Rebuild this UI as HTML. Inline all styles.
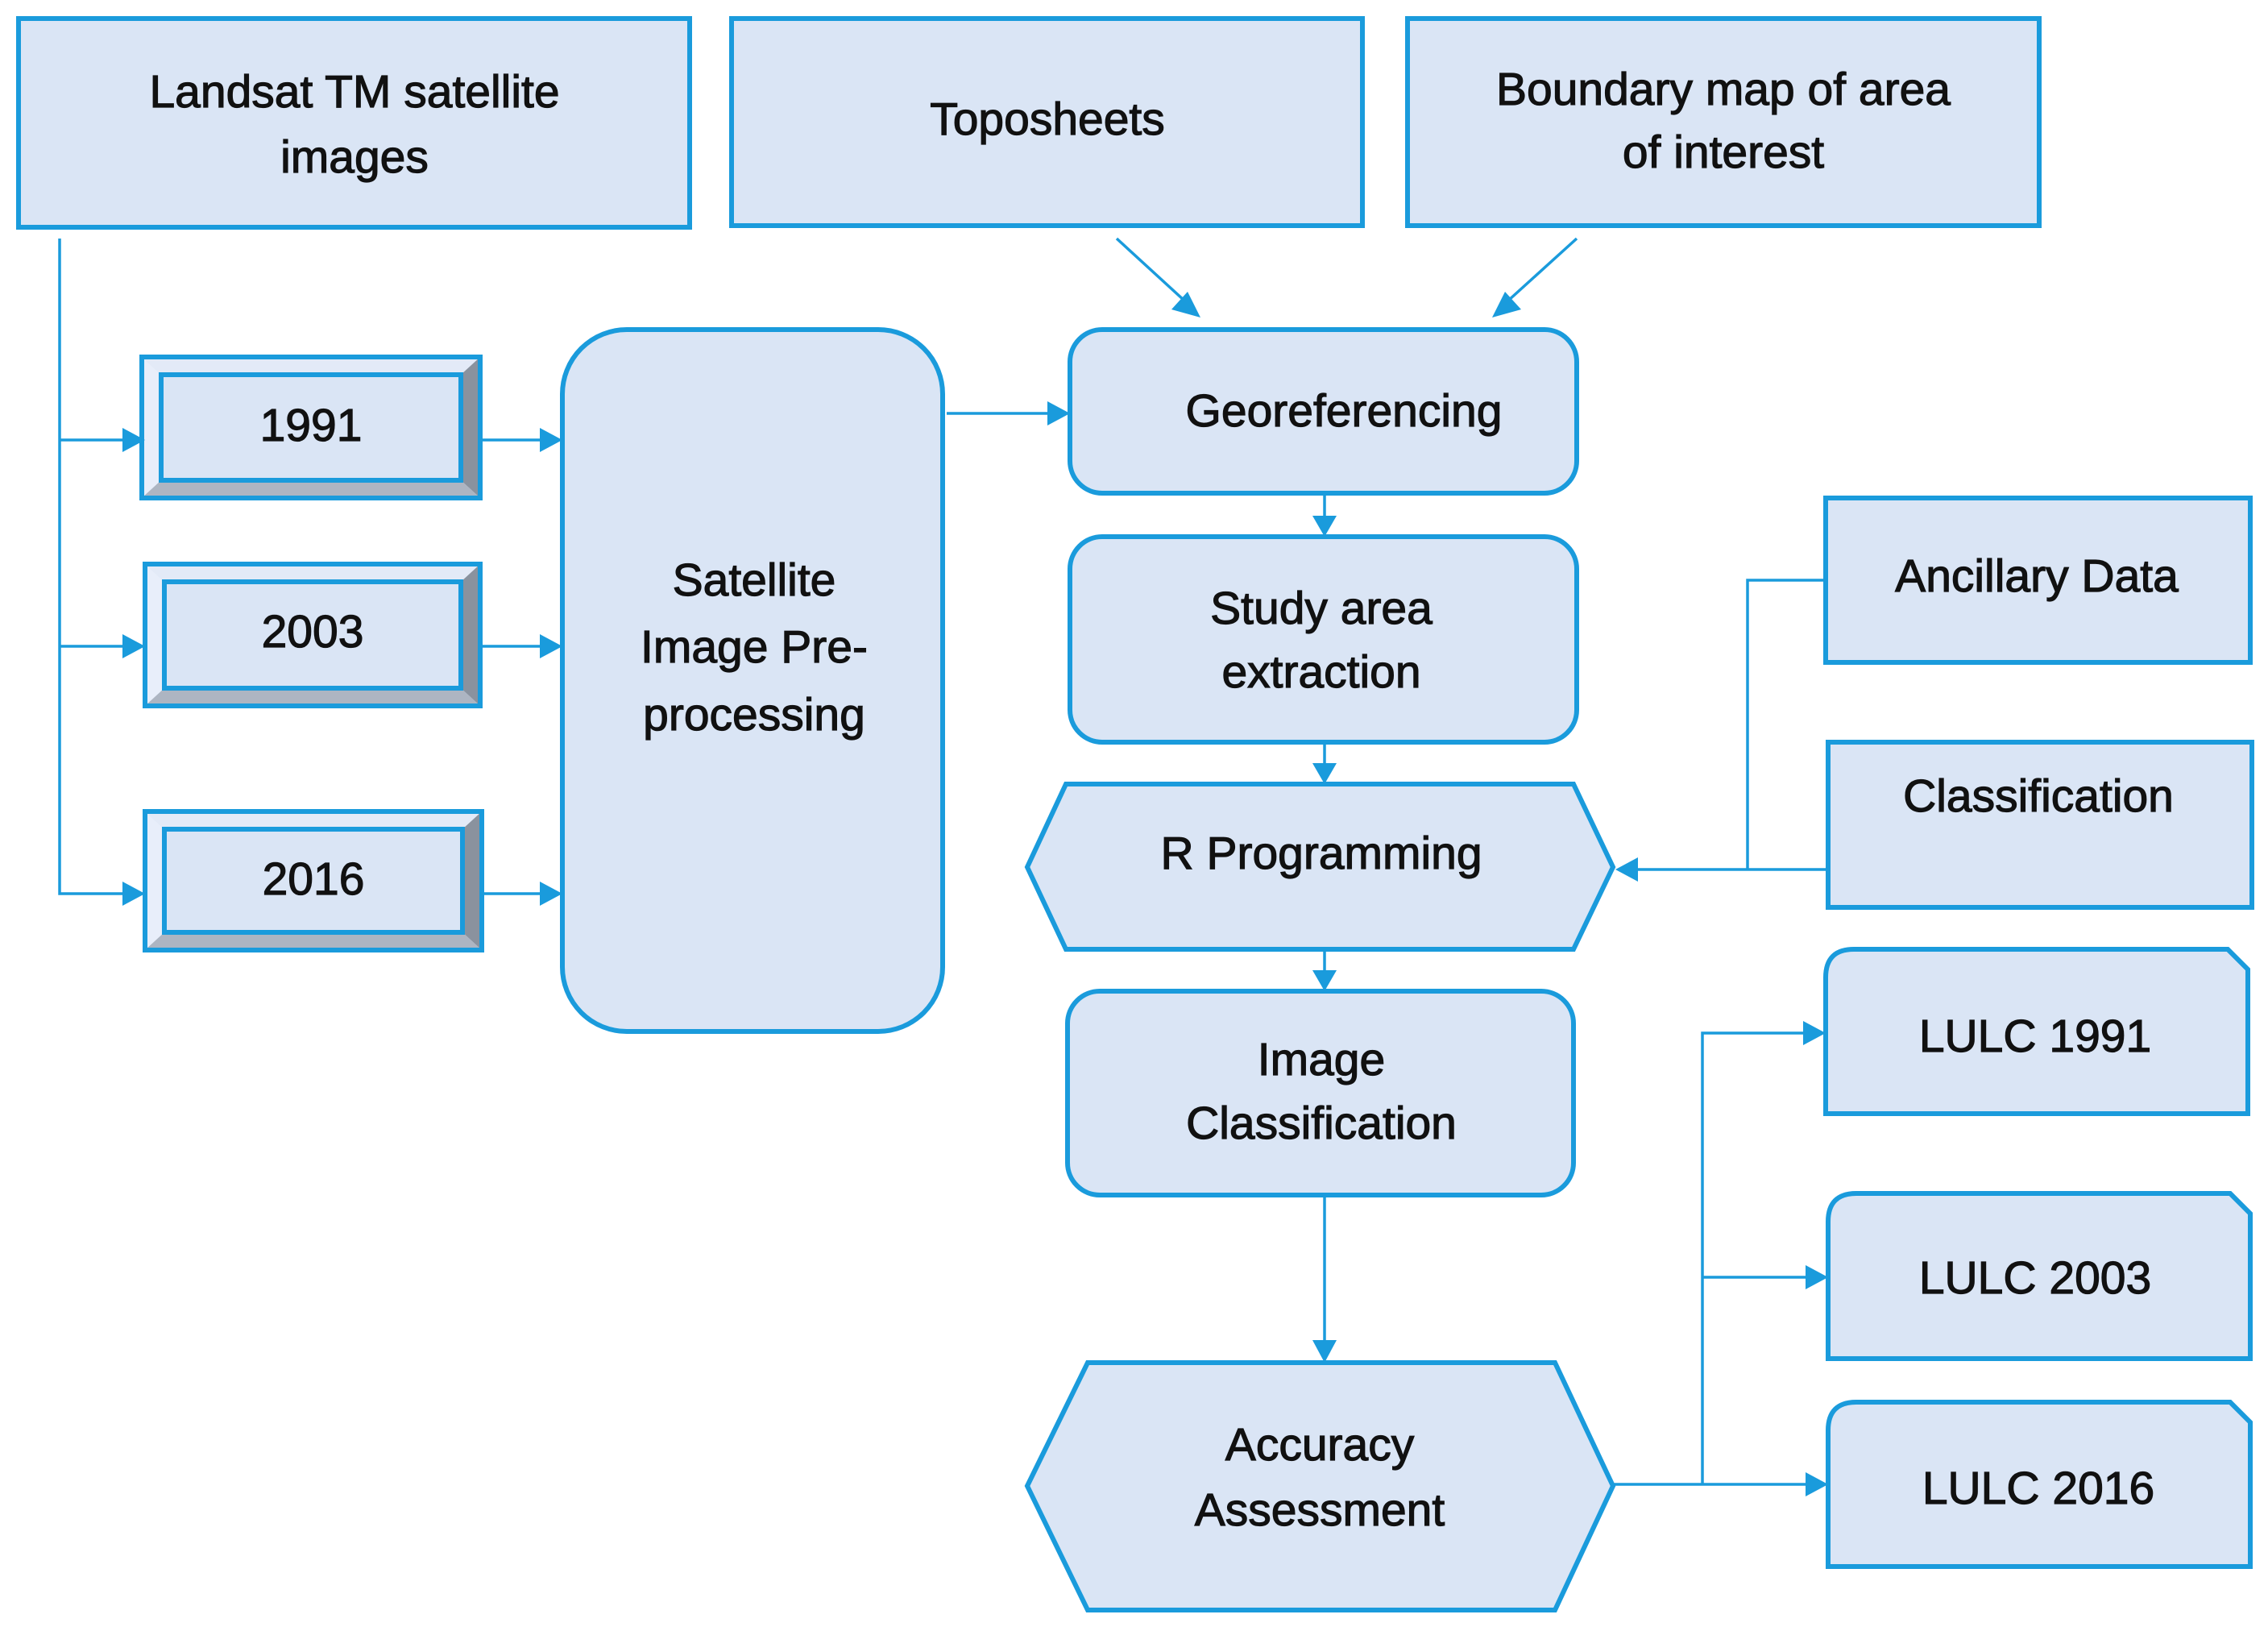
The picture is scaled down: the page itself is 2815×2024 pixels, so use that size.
<!DOCTYPE html>
<html><head><meta charset="utf-8"><style>
html,body{margin:0;padding:0;background:#fff;}
svg{display:block;}
text{font-family:"Liberation Sans",sans-serif;font-size:57px;fill:#111;stroke:#111;stroke-width:1.2px;text-anchor:middle;}
</style></head><body>
<svg width="2815" height="2024" viewBox="0 0 2815 2024" xmlns="http://www.w3.org/2000/svg">
<g fill="#dae5f5" stroke="#1a9bdc" stroke-width="6">
<rect x="23" y="23" width="833" height="259"/>
<rect x="908" y="23" width="783" height="257"/>
<rect x="1747" y="23" width="784" height="257"/>
<rect x="698" y="409" width="472" height="871" rx="80"/>
<rect x="1328" y="409" width="629" height="203" rx="40"/>
<rect x="1328" y="666" width="629" height="255" rx="40"/>
<polygon points="1275,1076 1323,973 1953,973 2002,1076 1953,1178 1323,1178"/>
<rect x="1325" y="1230" width="628" height="253" rx="40"/>
<polygon points="1275,1844 1350,1691 1930,1691 2002,1844 1930,1998 1350,1998"/>
<rect x="2266" y="618" width="527" height="204"/>
<rect x="2269" y="921" width="526" height="205"/>
<path d="M2301,1178 H2765 L2790,1203 V1382 H2266 V1213 Q2266,1178 2301,1178 Z"/>
<path d="M2304,1481 H2768 L2793,1506 V1686 H2269 V1516 Q2269,1481 2304,1481 Z"/>
<path d="M2304,1740 H2768 L2793,1765 V1944 H2269 V1775 Q2269,1740 2304,1740 Z"/>
</g>
<g stroke="#1a9bdc" stroke-width="6">
<g transform="translate(176,443)">
<rect x="0" y="0" width="420" height="175" fill="#dae5f5"/>
<polygon points="0,0 24,22 24,153 0,175" fill="#e8eefa" stroke="none"/>
<polygon points="0,0 420,0 396,22 24,22" fill="#e3eaf7" stroke="none"/>
<polygon points="420,0 420,175 396,153 396,22" fill="#8a929e" stroke="none"/>
<polygon points="0,175 420,175 396,153 24,153" fill="#adb5c2" stroke="none"/>
<rect x="24" y="22" width="372" height="131" fill="#dae5f5"/>
<rect x="0" y="0" width="420" height="175" fill="none"/>
</g>
<g transform="translate(180,700)">
<rect x="0" y="0" width="416" height="176" fill="#dae5f5"/>
<polygon points="0,0 24,22 24,154 0,176" fill="#e8eefa" stroke="none"/>
<polygon points="0,0 416,0 392,22 24,22" fill="#e3eaf7" stroke="none"/>
<polygon points="416,0 416,176 392,154 392,22" fill="#8a929e" stroke="none"/>
<polygon points="0,176 416,176 392,154 24,154" fill="#adb5c2" stroke="none"/>
<rect x="24" y="22" width="368" height="132" fill="#dae5f5"/>
<rect x="0" y="0" width="416" height="176" fill="none"/>
</g>
<g transform="translate(180,1007)">
<rect x="0" y="0" width="418" height="172" fill="#dae5f5"/>
<polygon points="0,0 24,22 24,150 0,172" fill="#e8eefa" stroke="none"/>
<polygon points="0,0 418,0 394,22 24,22" fill="#e3eaf7" stroke="none"/>
<polygon points="418,0 418,172 394,150 394,22" fill="#8a929e" stroke="none"/>
<polygon points="0,172 418,172 394,150 24,150" fill="#adb5c2" stroke="none"/>
<rect x="24" y="22" width="370" height="128" fill="#dae5f5"/>
<rect x="0" y="0" width="418" height="172" fill="none"/>
</g>
</g>
<g stroke="#1a9bdc" stroke-width="3.5" fill="none">
<path d="M74,296 V1109 H155"/>
<path d="M74,546 H155 M74,802 H160"/>
<path d="M596,546 H675 M596,802 H675 M598,1109 H675"/>
<path d="M1175,513 H1305"/>
<path d="M1386,296 L1470,373 M1957,296 L1872,373"/>
<path d="M1644,612 V645 M1644,921 V952 M1644,1178 V1209 M1644,1483 V1668"/>
<path d="M2266,720 H2169 V1079 M2269,1079 H2025"/>
<path d="M2002,1842 H2113 V1282 H2245 M2113,1585 H2248 M2113,1842 H2248"/>
</g>
<g fill="#1a9bdc">
<polygon points="180,546 152,531 152,561"/>
<polygon points="180,802 152,787 152,817"/>
<polygon points="180,1109 152,1094 152,1124"/>
<polygon points="698,546 670,531 670,561"/>
<polygon points="698,802 670,787 670,817"/>
<polygon points="698,1109 670,1094 670,1124"/>
<polygon points="1328,513 1300,498 1300,528"/>
<polygon points="1490,394 1454,384 1474,362"/>
<polygon points="1852,394 1868,362 1888,384"/>
<polygon points="1644,666 1629,640 1659,640"/>
<polygon points="1644,973 1629,947 1659,947"/>
<polygon points="1644,1230 1629,1204 1659,1204"/>
<polygon points="1644,1691 1629,1663 1659,1663"/>
<polygon points="2005,1079 2033,1064 2033,1094"/>
<polygon points="2266,1282 2238,1267 2238,1297"/>
<polygon points="2269,1585 2241,1570 2241,1600"/>
<polygon points="2269,1842 2241,1827 2241,1857"/>
</g>
<text x="440" y="133">Landsat TM satellite</text>
<text x="440" y="214">images</text>
<text x="1300" y="167">Toposheets</text>
<text x="2139" y="130">Boundary map of area</text>
<text x="2139" y="208">of interest</text>
<text x="386" y="547">1991</text>
<text x="388" y="803">2003</text>
<text x="389" y="1110">2016</text>
<text x="936" y="739">Satellite</text>
<text x="936" y="822">Image Pre-</text>
<text x="936" y="906">processing</text>
<text x="1668" y="529">Georeferencing</text>
<text x="1640" y="774">Study area</text>
<text x="1640" y="853">extraction</text>
<text x="1640" y="1078">R Programming</text>
<text x="1640" y="1334">Image</text>
<text x="1640" y="1413">Classification</text>
<text x="1638" y="1812">Accuracy</text>
<text x="1638" y="1893">Assessment</text>
<text x="2528" y="734">Ancillary Data</text>
<text x="2530" y="1007">Classification</text>
<text x="2526" y="1305">LULC 1991</text>
<text x="2526" y="1605">LULC 2003</text>
<text x="2530" y="1866">LULC 2016</text>
</svg>
</body></html>
